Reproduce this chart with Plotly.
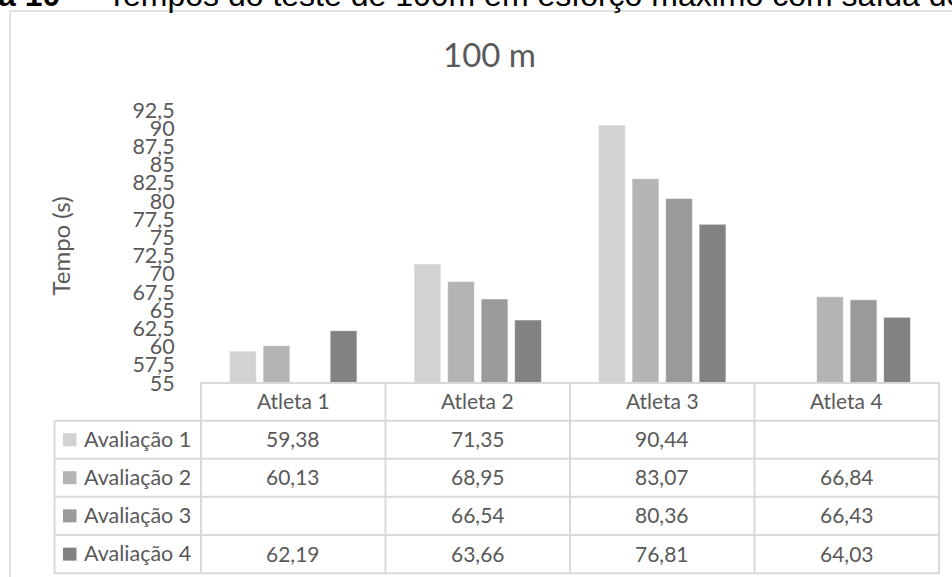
import plotly.graph_objects as go

# Data
athletes = ["Atleta 1", "Atleta 2", "Atleta 3", "Atleta 4"]
series_names = ["Avaliação 1", "Avaliação 2", "Avaliação 3", "Avaliação 4"]
aval_1 = [59.38, 71.35, 90.44, None]
aval_2 = [60.13, 68.95, 83.07, 66.84]
aval_3 = [None, 66.54, 80.36, 66.43]
aval_4 = [62.19, 63.66, 76.81, 64.03]
series_values = [aval_1, aval_2, aval_3, aval_4]
y_tick_values = [55, 57.5, 60, 62.5, 65, 67.5, 70, 72.5, 75, 77.5, 80, 82.5, 85, 87.5, 90, 92.5]
y_tick_labels = ["55", "57,5", "60", "62,5", "65", "67,5", "70", "72,5", "75", "77,5",
                 "80", "82,5", "85", "87,5", "90", "92,5"]

# Styling
colors = ["#D2D2D2", "#B4B4B4", "#9A9A9A", "#828282"]
text_color = "#595959"
grid_color = "#D9D9D9"
font_family = "Lato, 'Open Sans', sans-serif"

W, H = 952, 577
L, R, T, B = 200, 940, 110, 383  # plot area in pixels


def px_x(px):
    return (px - L) / (R - L)


def px_y(py):
    return (B - py) / (B - T)


fig = go.Figure()
for name, vals, col in zip(series_names, series_values, colors):
    fig.add_trace(go.Bar(
        x=athletes, y=vals, name=name,
        marker=dict(color=col, line=dict(color="rgba(255,255,255,0.55)", width=1)),
    ))

shapes = []
annotations = []

# Outer chart frame
shapes.append(dict(type="rect", xref="paper", yref="paper",
                   x0=px_x(10), x1=px_x(975), y0=px_y(11), y1=px_y(600),
                   line=dict(color=grid_color, width=1.5), fillcolor="rgba(0,0,0,0)"))

# Data table grid
row_lines = [420.7, 458.7, 496.7, 535.0, 573.3]
table_left = 54.5
shapes.append(dict(type="line", xref="paper", yref="paper",
                   x0=0, x1=1, y0=px_y(B), y1=px_y(B),
                   line=dict(color=grid_color, width=2)))
for yl in row_lines:
    shapes.append(dict(type="line", xref="paper", yref="paper",
                       x0=px_x(table_left), x1=1, y0=px_y(yl), y1=px_y(yl),
                       line=dict(color=grid_color, width=2)))
for k in range(len(athletes) + 1):
    shapes.append(dict(type="line", xref="x", yref="paper",
                       x0=k - 0.5, x1=k - 0.5, y0=px_y(B), y1=px_y(row_lines[-1]),
                       line=dict(color=grid_color, width=2)))
shapes.append(dict(type="line", xref="paper", yref="paper",
                   x0=px_x(table_left), x1=px_x(table_left),
                   y0=px_y(row_lines[0]), y1=px_y(row_lines[-1]),
                   line=dict(color=grid_color, width=2)))

# Table header (athlete names)
header_mid = (B + row_lines[0]) / 2 - 1.5
for a in athletes:
    annotations.append(dict(x=a, xref="x", y=px_y(header_mid), yref="paper",
                            text=a, showarrow=False, xanchor="center", yanchor="middle",
                            font=dict(size=21, color=text_color, family=font_family)))

# Table rows: legend key, series name, values
for i, (name, vals, col) in enumerate(zip(series_names, series_values, colors)):
    top, bot = row_lines[i], row_lines[i + 1]
    mid = (top + bot) / 2
    shapes.append(dict(type="rect", xref="paper", yref="paper",
                       x0=px_x(63), x1=px_x(76.5), y0=px_y(mid - 6.5), y1=px_y(mid + 6.5),
                       line=dict(width=0), fillcolor=col))
    annotations.append(dict(x=px_x(82), xref="paper", y=px_y(mid - 1), yref="paper",
                            text=name, showarrow=False, xanchor="left", yanchor="middle",
                            font=dict(size=21.5, color=text_color, family=font_family)))
    for a, v in zip(athletes, vals):
        if v is None:
            continue
        annotations.append(dict(x=a, xref="x", y=px_y(mid - 1), yref="paper",
                                text=f"{v:.2f}".replace(".", ","), showarrow=False,
                                xanchor="center", yanchor="middle",
                                font=dict(size=21, color=text_color, family=font_family)))

# Axis title
annotations.append(dict(x=px_x(60), xref="paper", y=0.5, yref="paper",
                        text="Tempo (s)", textangle=-90, showarrow=False,
                        xanchor="center", yanchor="middle",
                        font=dict(size=24, color=text_color, family=font_family)))

# Chart title
annotations.append(dict(x=px_x(489), xref="paper", y=px_y(54), yref="paper",
                        text="100 m", showarrow=False, xanchor="center", yanchor="middle",
                        font=dict(size=33, color=text_color, family=font_family)))

# Document caption above the chart frame
cap_font = dict(size=32, color="#000000", family="Liberation Sans, Arial, sans-serif")
cap_y = px_y(15.5)
annotations.append(dict(x=px_x(62), xref="paper", y=cap_y, yref="paper",
                        text="<b>Figura 10</b>", showarrow=False, xanchor="right",
                        yanchor="bottom", font=cap_font))
annotations.append(dict(x=px_x(84), xref="paper", y=cap_y, yref="paper",
                        text="–", showarrow=False, xanchor="center",
                        yanchor="bottom", font=cap_font))
annotations.append(dict(x=px_x(105), xref="paper", y=cap_y, yref="paper",
                        text="Tempos do teste de 100m em esforço máximo com saída de bloco",
                        showarrow=False, xanchor="left", yanchor="bottom", font=cap_font))

fig.update_layout(
    width=W, height=H,
    margin=dict(l=L, r=W - R, t=T, b=H - B, pad=0),
    paper_bgcolor="white", plot_bgcolor="white",
    barmode="group", bargap=0.273, bargroupgap=0.2,
    showlegend=False,
    xaxis=dict(showticklabels=False, showline=False, showgrid=False, zeroline=False,
               ticks=""),
    yaxis=dict(range=[55, 92.5], tickvals=y_tick_values, ticktext=y_tick_labels,
               showgrid=False, zeroline=False, showline=False,
               ticks="outside", ticklen=20, tickcolor="rgba(0,0,0,0)",
               tickfont=dict(size=21.5, color=text_color, family=font_family)),
    shapes=shapes,
    annotations=annotations,
)

fig.write_html("out.html")
